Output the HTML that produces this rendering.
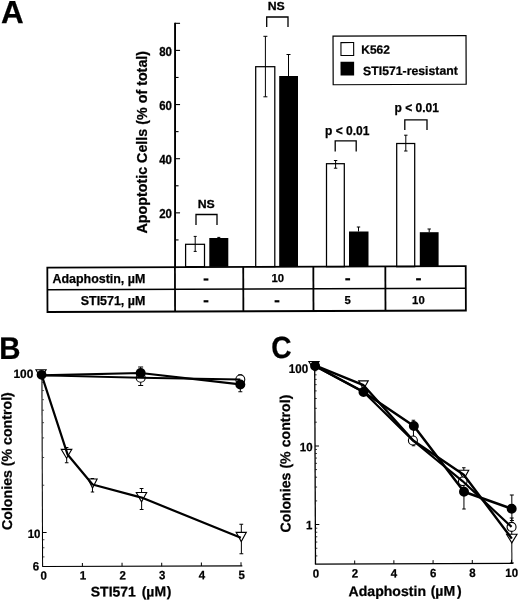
<!DOCTYPE html><html><head><meta charset="utf-8"><style>html,body{margin:0;padding:0;background:#fff}svg{display:block;filter:grayscale(1)}text{font-family:"Liberation Sans",sans-serif;font-weight:bold;fill:#000;stroke:#000;stroke-width:0.25px}</style></head><body>
<svg width="520" height="601" viewBox="0 0 520 601">
<rect width="520" height="601" fill="#fff"/>
<text transform="translate(1.0,23.2) scale(1.0,1)" font-size="31.4" text-anchor="start">A</text>
<line x1="175.05" y1="22.825000000000017" x2="175.05" y2="267" stroke="#000" stroke-width="1.9"/>
<line x1="175.05" y1="239.93" x2="178.55" y2="239.93" stroke="#000" stroke-width="1.1"/>
<line x1="175.05" y1="212.85" x2="180.05" y2="212.85" stroke="#000" stroke-width="1.1"/>
<line x1="175.05" y1="185.78" x2="178.55" y2="185.78" stroke="#000" stroke-width="1.1"/>
<line x1="175.05" y1="158.70" x2="180.05" y2="158.70" stroke="#000" stroke-width="1.1"/>
<line x1="175.05" y1="131.62" x2="178.55" y2="131.62" stroke="#000" stroke-width="1.1"/>
<line x1="175.05" y1="104.55" x2="180.05" y2="104.55" stroke="#000" stroke-width="1.1"/>
<line x1="175.05" y1="77.47" x2="178.55" y2="77.47" stroke="#000" stroke-width="1.1"/>
<line x1="175.05" y1="50.40" x2="180.05" y2="50.40" stroke="#000" stroke-width="1.1"/>
<line x1="175.05" y1="23.33" x2="180.05" y2="23.33" stroke="#000" stroke-width="1.1"/>
<text transform="translate(172.0,218.25) scale(0.96,1)" font-size="12.0" text-anchor="end">20</text>
<text transform="translate(172.0,164.1) scale(0.96,1)" font-size="12.0" text-anchor="end">40</text>
<text transform="translate(172.0,109.95) scale(0.96,1)" font-size="12.0" text-anchor="end">60</text>
<text transform="translate(172.0,55.8) scale(0.96,1)" font-size="12.0" text-anchor="end">80</text>
<text transform="translate(146.9,233.6) rotate(-90)" font-size="14.3">Apoptotic Cells (% of total)</text>
<rect x="185.6" y="244.3" width="18.900000000000006" height="22.399999999999977" fill="#fff" stroke="#000" stroke-width="1.25"/>
<line x1="195.2" y1="236.4" x2="195.2" y2="251.4" stroke="#000" stroke-width="1"/>
<line x1="193.7" y1="236.4" x2="196.7" y2="236.4" stroke="#000" stroke-width="1"/>
<line x1="193.7" y1="251.4" x2="196.7" y2="251.4" stroke="#000" stroke-width="1"/>
<rect x="209.3" y="238" width="19.0" height="28.80000000000001" fill="#000"/>
<line x1="218.8" y1="237.4" x2="218.8" y2="238" stroke="#000" stroke-width="1"/>
<line x1="217.3" y1="237.4" x2="220.3" y2="237.4" stroke="#000" stroke-width="1"/>
<rect x="255.7" y="66.7" width="19.100000000000023" height="200.0" fill="#fff" stroke="#000" stroke-width="1.25"/>
<line x1="265.4" y1="36.3" x2="265.4" y2="96.8" stroke="#000" stroke-width="1"/>
<line x1="263.4" y1="36.3" x2="267.4" y2="36.3" stroke="#000" stroke-width="1"/>
<line x1="263.4" y1="96.8" x2="267.4" y2="96.8" stroke="#000" stroke-width="1"/>
<rect x="279.2" y="76" width="18.80000000000001" height="190.8" fill="#000"/>
<line x1="288.5" y1="54.5" x2="288.5" y2="76" stroke="#000" stroke-width="1"/>
<line x1="286.5" y1="54.5" x2="290.5" y2="54.5" stroke="#000" stroke-width="1"/>
<rect x="326.5" y="163.7" width="17.80000000000001" height="103.0" fill="#fff" stroke="#000" stroke-width="1.25"/>
<line x1="335.6" y1="160.5" x2="335.6" y2="168.2" stroke="#000" stroke-width="1"/>
<line x1="333.90000000000003" y1="160.5" x2="337.3" y2="160.5" stroke="#000" stroke-width="1"/>
<line x1="333.90000000000003" y1="168.2" x2="337.3" y2="168.2" stroke="#000" stroke-width="1"/>
<rect x="349" y="231.5" width="19.5" height="35.30000000000001" fill="#000"/>
<line x1="358.5" y1="227" x2="358.5" y2="231.5" stroke="#000" stroke-width="1"/>
<line x1="356.8" y1="227" x2="360.2" y2="227" stroke="#000" stroke-width="1"/>
<rect x="396.7" y="143.5" width="18.0" height="123.19999999999999" fill="#fff" stroke="#000" stroke-width="1.25"/>
<line x1="405.8" y1="135.2" x2="405.8" y2="151" stroke="#000" stroke-width="1"/>
<line x1="404.1" y1="135.2" x2="407.5" y2="135.2" stroke="#000" stroke-width="1"/>
<line x1="404.1" y1="151" x2="407.5" y2="151" stroke="#000" stroke-width="1"/>
<rect x="419.8" y="232.2" width="18.80000000000001" height="34.60000000000002" fill="#000"/>
<line x1="429.2" y1="229" x2="429.2" y2="232.2" stroke="#000" stroke-width="1"/>
<line x1="427.5" y1="229" x2="430.9" y2="229" stroke="#000" stroke-width="1"/>
<polyline points="196,225 196,214.5 217,214.5 217,225" fill="none" stroke="#000" stroke-width="1.3"/>
<polyline points="266.7,26.9 266.7,17 288,17 288,26.9" fill="none" stroke="#000" stroke-width="1.3"/>
<polyline points="335.2,151.5 335.2,140.8 356.2,140.8 356.2,151.5" fill="none" stroke="#000" stroke-width="1.3"/>
<polyline points="404.8,130 404.8,119.8 427,119.8 427,130" fill="none" stroke="#000" stroke-width="1.3"/>
<text transform="translate(206.2,208.0) scale(1.07,1)" font-size="11.5" text-anchor="middle">NS</text>
<text transform="translate(276.2,10.1) scale(1.07,1)" font-size="11.5" text-anchor="middle">NS</text>
<text x="347.2" y="135" font-size="12" text-anchor="middle">p &lt; 0.01</text>
<text x="416.8" y="112" font-size="12" text-anchor="middle">p &lt; 0.01</text>
<g transform="rotate(-0.2 399 60)">
<rect x="333.1" y="35.8" width="133.0" height="48.7" fill="#fff" stroke="#000" stroke-width="1.2"/>
<rect x="341" y="42.4" width="12.7" height="12.9" fill="#fff" stroke="#000" stroke-width="1.1"/>
<rect x="340.5" y="61.5" width="13.6" height="13.8" fill="#000"/>
<text x="361.3" y="53.6" font-size="12">K562</text>
<text x="363" y="75.0" font-size="12.27">STI571-resistant</text>
</g>
<g transform="rotate(-0.2 256.6 289.1)">
<rect x="47.4" y="266.95" width="418.4" height="44.3" fill="none" stroke="#000" stroke-width="1.8"/>
<line x1="47.4" y1="288.95" x2="465.8" y2="288.95" stroke="#000" stroke-width="1.6"/>
<line x1="175.0" y1="267" x2="175.0" y2="311.2" stroke="#000" stroke-width="1.8"/>
<line x1="243.3" y1="267" x2="243.3" y2="311.2" stroke="#000" stroke-width="1.8"/>
<line x1="313.4" y1="267" x2="313.4" y2="311.2" stroke="#000" stroke-width="1.8"/>
<line x1="385.4" y1="267" x2="385.4" y2="311.2" stroke="#000" stroke-width="1.8"/>
</g>
<text x="145.3" y="282.7" font-size="12.45" text-anchor="end">Adaphostin, µM</text>
<text x="145.3" y="304.7" font-size="12.45" text-anchor="end">STI571, µM</text>
<rect x="203.6" y="278.4" width="4.8" height="2.2" fill="#000"/>
<rect x="203.6" y="300.2" width="4.8" height="2.2" fill="#000"/>
<rect x="274.6" y="300.2" width="4.8" height="2.2" fill="#000"/>
<rect x="345.3" y="278.2" width="4.8" height="2.2" fill="#000"/>
<rect x="416.1" y="278.2" width="4.8" height="2.2" fill="#000"/>
<text x="277.7" y="282.2" font-size="11.3" text-anchor="middle">10</text>
<text x="347.7" y="303.7" font-size="11.3" text-anchor="middle">5</text>
<text x="418.4" y="303.7" font-size="11.3" text-anchor="middle">10</text>
<g transform="rotate(-0.2 142 470)">
<text transform="translate(-0.4,358.4) scale(0.945,1)" font-size="31.2" text-anchor="start">B</text>
<line x1="42.25" y1="375.0" x2="42.25" y2="566.2" stroke="#000" stroke-width="1.05"/>
<line x1="41.9" y1="566.2" x2="242" y2="566.2" stroke="#000" stroke-width="1.15"/>
<line x1="42.4" y1="382.19" x2="44.199999999999996" y2="382.19" stroke="#222" stroke-width="0.8"/>
<line x1="42.4" y1="390.23" x2="44.199999999999996" y2="390.23" stroke="#222" stroke-width="0.8"/>
<line x1="42.4" y1="399.35" x2="44.199999999999996" y2="399.35" stroke="#222" stroke-width="0.8"/>
<line x1="42.4" y1="409.87" x2="44.199999999999996" y2="409.87" stroke="#222" stroke-width="0.8"/>
<line x1="42.4" y1="422.32" x2="44.199999999999996" y2="422.32" stroke="#222" stroke-width="0.8"/>
<line x1="42.4" y1="437.56" x2="44.199999999999996" y2="437.56" stroke="#222" stroke-width="0.8"/>
<line x1="42.4" y1="457.20" x2="44.199999999999996" y2="457.20" stroke="#222" stroke-width="0.8"/>
<line x1="42.4" y1="484.88" x2="44.199999999999996" y2="484.88" stroke="#222" stroke-width="0.8"/>
<line x1="42.4" y1="539.39" x2="44.199999999999996" y2="539.39" stroke="#222" stroke-width="0.8"/>
<line x1="42.4" y1="547.43" x2="44.199999999999996" y2="547.43" stroke="#222" stroke-width="0.8"/>
<line x1="42.4" y1="556.55" x2="44.199999999999996" y2="556.55" stroke="#222" stroke-width="0.8"/>
<line x1="42.4" y1="532.20" x2="46.4" y2="532.20" stroke="#000" stroke-width="1"/>
<line x1="82.06" y1="566.2" x2="82.06" y2="562.7" stroke="#000" stroke-width="1"/>
<text transform="translate(82.56,579.4) scale(0.95,1)" font-size="12.1" text-anchor="middle">1</text>
<line x1="121.72" y1="566.2" x2="121.72" y2="562.7" stroke="#000" stroke-width="1"/>
<text transform="translate(122.22,579.4) scale(0.95,1)" font-size="12.1" text-anchor="middle">2</text>
<line x1="161.38" y1="566.2" x2="161.38" y2="562.7" stroke="#000" stroke-width="1"/>
<text transform="translate(161.88,579.4) scale(0.95,1)" font-size="12.1" text-anchor="middle">3</text>
<line x1="201.04" y1="566.2" x2="201.04" y2="562.7" stroke="#000" stroke-width="1"/>
<text transform="translate(201.54,579.4) scale(0.95,1)" font-size="12.1" text-anchor="middle">4</text>
<line x1="240.70" y1="566.2" x2="240.70" y2="562.7" stroke="#000" stroke-width="1"/>
<text transform="translate(241.2,579.4) scale(0.95,1)" font-size="12.1" text-anchor="middle">5</text>
<text transform="translate(43.4,579.4) scale(0.95,1)" font-size="12.1" text-anchor="middle">0</text>
<text transform="translate(33.6,377.5) scale(0.985,1)" font-size="12.1" text-anchor="end">100</text>
<text transform="translate(40.2,537.6) scale(0.95,1)" font-size="12.1" text-anchor="end">10</text>
<text transform="translate(38.7,570.2) scale(0.95,1)" font-size="12.1" text-anchor="end">6</text>
<text transform="translate(11.8,529.5) rotate(-90)" font-size="14.18">Colonies (% control)</text>
<text x="90.3" y="596.4" font-size="14.0">STI571<tspan dx="5.8">(µM</tspan><tspan dx="0.6">)</tspan></text>
<line x1="66.7" y1="447.3" x2="66.7" y2="462.5" stroke="#000" stroke-width="1"/>
<line x1="64.9" y1="447.3" x2="68.5" y2="447.3" stroke="#000" stroke-width="1"/>
<line x1="64.9" y1="462.5" x2="68.5" y2="462.5" stroke="#000" stroke-width="1"/>
<line x1="92.4" y1="478.3" x2="92.4" y2="491.8" stroke="#000" stroke-width="1"/>
<line x1="90.7" y1="478.3" x2="94.10000000000001" y2="478.3" stroke="#000" stroke-width="1"/>
<line x1="90.7" y1="491.8" x2="94.10000000000001" y2="491.8" stroke="#000" stroke-width="1"/>
<line x1="141.5" y1="488.4" x2="141.5" y2="509.4" stroke="#000" stroke-width="1"/>
<line x1="139.6" y1="488.4" x2="143.4" y2="488.4" stroke="#000" stroke-width="1"/>
<line x1="139.6" y1="509.4" x2="143.4" y2="509.4" stroke="#000" stroke-width="1"/>
<line x1="241.1" y1="524.7" x2="241.1" y2="554.2" stroke="#000" stroke-width="1"/>
<line x1="239.2" y1="524.7" x2="243.0" y2="524.7" stroke="#000" stroke-width="1"/>
<line x1="239.2" y1="554.2" x2="243.0" y2="554.2" stroke="#000" stroke-width="1"/>
<line x1="141" y1="367" x2="141" y2="385.4" stroke="#000" stroke-width="1"/>
<line x1="138.5" y1="367" x2="143.5" y2="367" stroke="#000" stroke-width="1"/>
<line x1="138.5" y1="385.4" x2="143.5" y2="385.4" stroke="#000" stroke-width="1"/>
<line x1="240.6" y1="375" x2="240.6" y2="392" stroke="#000" stroke-width="1"/>
<line x1="238.6" y1="375" x2="242.6" y2="375" stroke="#000" stroke-width="1"/>
<line x1="238.6" y1="392" x2="242.6" y2="392" stroke="#000" stroke-width="1"/>
<polygon points="36.3,369.4 46.5,369.4 41.4,378.0" fill="#fff" stroke="#000" stroke-width="1.1"/>
<polygon points="61.3,449.05 71.89999999999999,449.05 66.6,457.95" fill="#fff" stroke="#000" stroke-width="1.1"/>
<polygon points="87.9,478.8 97.1,478.8 92.5,487.8" fill="#fff" stroke="#000" stroke-width="1.1"/>
<polygon points="136.20000000000002,492.45000000000005 146.6,492.45000000000005 141.4,501.75" fill="#fff" stroke="#000" stroke-width="1.1"/>
<polygon points="235.9,532.6999999999999 246.1,532.6999999999999 241,541.9" fill="#fff" stroke="#000" stroke-width="1.1"/>
<circle cx="141" cy="377.7" r="4.5" fill="#fff" stroke="#000" stroke-width="1.1"/>
<circle cx="240.6" cy="379.8" r="4.5" fill="#fff" stroke="#000" stroke-width="1.1"/>
<polyline points="42.1,375 141,377.7 240.6,379.8" fill="none" stroke="#000" stroke-width="1.9" stroke-linejoin="round"/>
<polyline points="42.1,375 141,373 240.6,384.8" fill="none" stroke="#000" stroke-width="2.2" stroke-linejoin="round"/>
<polyline points="42.1,375 67.6,454.2 92.5,484.3 141.5,497.6 240.6,538.0" fill="none" stroke="#000" stroke-width="2.2" stroke-linejoin="round"/>
<circle cx="41.9" cy="374.5" r="4.9" fill="#000"/>
<circle cx="141" cy="373" r="5" fill="#000"/>
<circle cx="240.6" cy="384.8" r="5" fill="#000"/>
</g>
<g transform="rotate(-0.23 414 465)">
<text transform="translate(271.8,357.4) scale(0.917,1)" font-size="30.7" text-anchor="start">C</text>
<line x1="315.1" y1="366.8" x2="315.1" y2="563.7" stroke="#000" stroke-width="1.3"/>
<line x1="314.5" y1="563.7" x2="512.5" y2="563.7" stroke="#000" stroke-width="1.3"/>
<line x1="315.1" y1="421.81" x2="317.0" y2="421.81" stroke="#111" stroke-width="0.85"/>
<line x1="315.1" y1="407.95" x2="317.0" y2="407.95" stroke="#111" stroke-width="0.85"/>
<line x1="315.1" y1="398.12" x2="317.0" y2="398.12" stroke="#111" stroke-width="0.85"/>
<line x1="315.1" y1="390.49" x2="317.0" y2="390.49" stroke="#111" stroke-width="0.85"/>
<line x1="315.1" y1="384.26" x2="317.0" y2="384.26" stroke="#111" stroke-width="0.85"/>
<line x1="315.1" y1="378.99" x2="317.0" y2="378.99" stroke="#111" stroke-width="0.85"/>
<line x1="315.1" y1="374.43" x2="317.0" y2="374.43" stroke="#111" stroke-width="0.85"/>
<line x1="315.1" y1="370.40" x2="317.0" y2="370.40" stroke="#111" stroke-width="0.85"/>
<line x1="315.1" y1="500.51" x2="317.0" y2="500.51" stroke="#111" stroke-width="0.85"/>
<line x1="315.1" y1="486.65" x2="317.0" y2="486.65" stroke="#111" stroke-width="0.85"/>
<line x1="315.1" y1="476.82" x2="317.0" y2="476.82" stroke="#111" stroke-width="0.85"/>
<line x1="315.1" y1="469.19" x2="317.0" y2="469.19" stroke="#111" stroke-width="0.85"/>
<line x1="315.1" y1="462.96" x2="317.0" y2="462.96" stroke="#111" stroke-width="0.85"/>
<line x1="315.1" y1="457.69" x2="317.0" y2="457.69" stroke="#111" stroke-width="0.85"/>
<line x1="315.1" y1="453.13" x2="317.0" y2="453.13" stroke="#111" stroke-width="0.85"/>
<line x1="315.1" y1="449.10" x2="317.0" y2="449.10" stroke="#111" stroke-width="0.85"/>
<line x1="315.1" y1="555.52" x2="317.0" y2="555.52" stroke="#111" stroke-width="0.85"/>
<line x1="315.1" y1="547.89" x2="317.0" y2="547.89" stroke="#111" stroke-width="0.85"/>
<line x1="315.1" y1="541.66" x2="317.0" y2="541.66" stroke="#111" stroke-width="0.85"/>
<line x1="315.1" y1="536.39" x2="317.0" y2="536.39" stroke="#111" stroke-width="0.85"/>
<line x1="315.1" y1="531.83" x2="317.0" y2="531.83" stroke="#111" stroke-width="0.85"/>
<line x1="315.1" y1="527.80" x2="317.0" y2="527.80" stroke="#111" stroke-width="0.85"/>
<line x1="315.1" y1="445.50" x2="319.1" y2="445.50" stroke="#000" stroke-width="1"/>
<line x1="315.1" y1="524.20" x2="319.1" y2="524.20" stroke="#000" stroke-width="1"/>
<line x1="354.30" y1="563.7" x2="354.30" y2="560.2" stroke="#000" stroke-width="1"/>
<text transform="translate(354.4,577.3) scale(0.95,1)" font-size="12.1" text-anchor="middle">2</text>
<line x1="393.50" y1="563.7" x2="393.50" y2="560.2" stroke="#000" stroke-width="1"/>
<text transform="translate(393.6,577.3) scale(0.95,1)" font-size="12.1" text-anchor="middle">4</text>
<line x1="432.70" y1="563.7" x2="432.70" y2="560.2" stroke="#000" stroke-width="1"/>
<text transform="translate(432.8,577.3) scale(0.95,1)" font-size="12.1" text-anchor="middle">6</text>
<line x1="471.90" y1="563.7" x2="471.90" y2="560.2" stroke="#000" stroke-width="1"/>
<text transform="translate(472.0,577.3) scale(0.95,1)" font-size="12.1" text-anchor="middle">8</text>
<line x1="511.10" y1="563.7" x2="511.10" y2="560.2" stroke="#000" stroke-width="1"/>
<text transform="translate(511.2,577.3) scale(0.95,1)" font-size="12.1" text-anchor="middle">10</text>
<text transform="translate(315.6,577.3) scale(0.95,1)" font-size="12.1" text-anchor="middle">0</text>
<text transform="translate(308.6,372.5) scale(0.925,1)" font-size="12.6" text-anchor="end">100</text>
<text transform="translate(312.6,450.9) scale(0.95,1)" font-size="12.1" text-anchor="end">10</text>
<text transform="translate(312.2,528.9) scale(0.95,1)" font-size="12.1" text-anchor="end">1</text>
<text transform="translate(290.2,531.9) rotate(-90)" font-size="14.18">Colonies (% control)</text>
<text x="348.0" y="595.9" font-size="14.1">Adaphostin<tspan dx="4.6">(µM</tspan><tspan dx="1.7">)</tspan></text>
<line x1="413.6" y1="420.2" x2="413.6" y2="445.8" stroke="#000" stroke-width="1"/>
<line x1="411.85" y1="420.2" x2="415.35" y2="420.2" stroke="#000" stroke-width="1"/>
<line x1="411.85" y1="445.8" x2="415.35" y2="445.8" stroke="#000" stroke-width="1"/>
<line x1="463.8" y1="468" x2="463.8" y2="509.2" stroke="#000" stroke-width="1"/>
<line x1="462.05" y1="468" x2="465.55" y2="468" stroke="#000" stroke-width="1"/>
<line x1="462.05" y1="509.2" x2="465.55" y2="509.2" stroke="#000" stroke-width="1"/>
<line x1="511.7" y1="495.5" x2="511.7" y2="521" stroke="#000" stroke-width="1"/>
<line x1="509.7" y1="495.5" x2="513.7" y2="495.5" stroke="#000" stroke-width="1"/>
<line x1="509.7" y1="521" x2="513.7" y2="521" stroke="#000" stroke-width="1"/>
<line x1="511.5" y1="518.5" x2="511.5" y2="563.5" stroke="#000" stroke-width="1"/>
<line x1="509.5" y1="518.5" x2="513.5" y2="518.5" stroke="#000" stroke-width="1"/>
<line x1="509.5" y1="563.5" x2="513.5" y2="563.5" stroke="#000" stroke-width="1"/>
<polygon points="309.29999999999995,361.15000000000003 319.5,361.15000000000003 314.4,369.45" fill="#fff" stroke="#000" stroke-width="1.1"/>
<polygon points="359.0,380.65000000000003 368.6,380.65000000000003 363.8,388.95" fill="#fff" stroke="#000" stroke-width="1.1"/>
<polygon points="458.7,470.5 468.7,470.5 463.7,479.5" fill="#fff" stroke="#000" stroke-width="1.1"/>
<polygon points="506.25,534.7 516.75,534.7 511.5,543.3" fill="#fff" stroke="#000" stroke-width="1.1"/>
<circle cx="413" cy="440.5" r="4.5" fill="#fff" stroke="#000" stroke-width="1.1"/>
<circle cx="462.7" cy="481.5" r="4.3" fill="#fff" stroke="#000" stroke-width="1.1"/>
<circle cx="511.3" cy="527.3" r="4.5" fill="#fff" stroke="#000" stroke-width="1.1"/>
<polyline points="315.3,365.0 363.8,385.0 413.3,440.5 463.7,475 511.5,539" fill="none" stroke="#000" stroke-width="2.4" stroke-linejoin="round"/>
<polyline points="315.5,365.6 363.7,391.5 413,440.5 462.7,481.5 511.3,527.3" fill="none" stroke="#000" stroke-width="2.2" stroke-linejoin="round"/>
<polyline points="315.5,365.6 363.8,391.8 414.0,426.0 463.9,491.9 511.5,509.1" fill="none" stroke="#000" stroke-width="2.5" stroke-linejoin="round"/>
<circle cx="315.5" cy="365.6" r="5" fill="#000"/>
<circle cx="363.8" cy="391.8" r="5" fill="#000"/>
<circle cx="414.0" cy="426.0" r="5" fill="#000"/>
<circle cx="463.9" cy="491.9" r="5" fill="#000"/>
<circle cx="511.5" cy="509.1" r="5" fill="#000"/>
</g>
</svg></body></html>
